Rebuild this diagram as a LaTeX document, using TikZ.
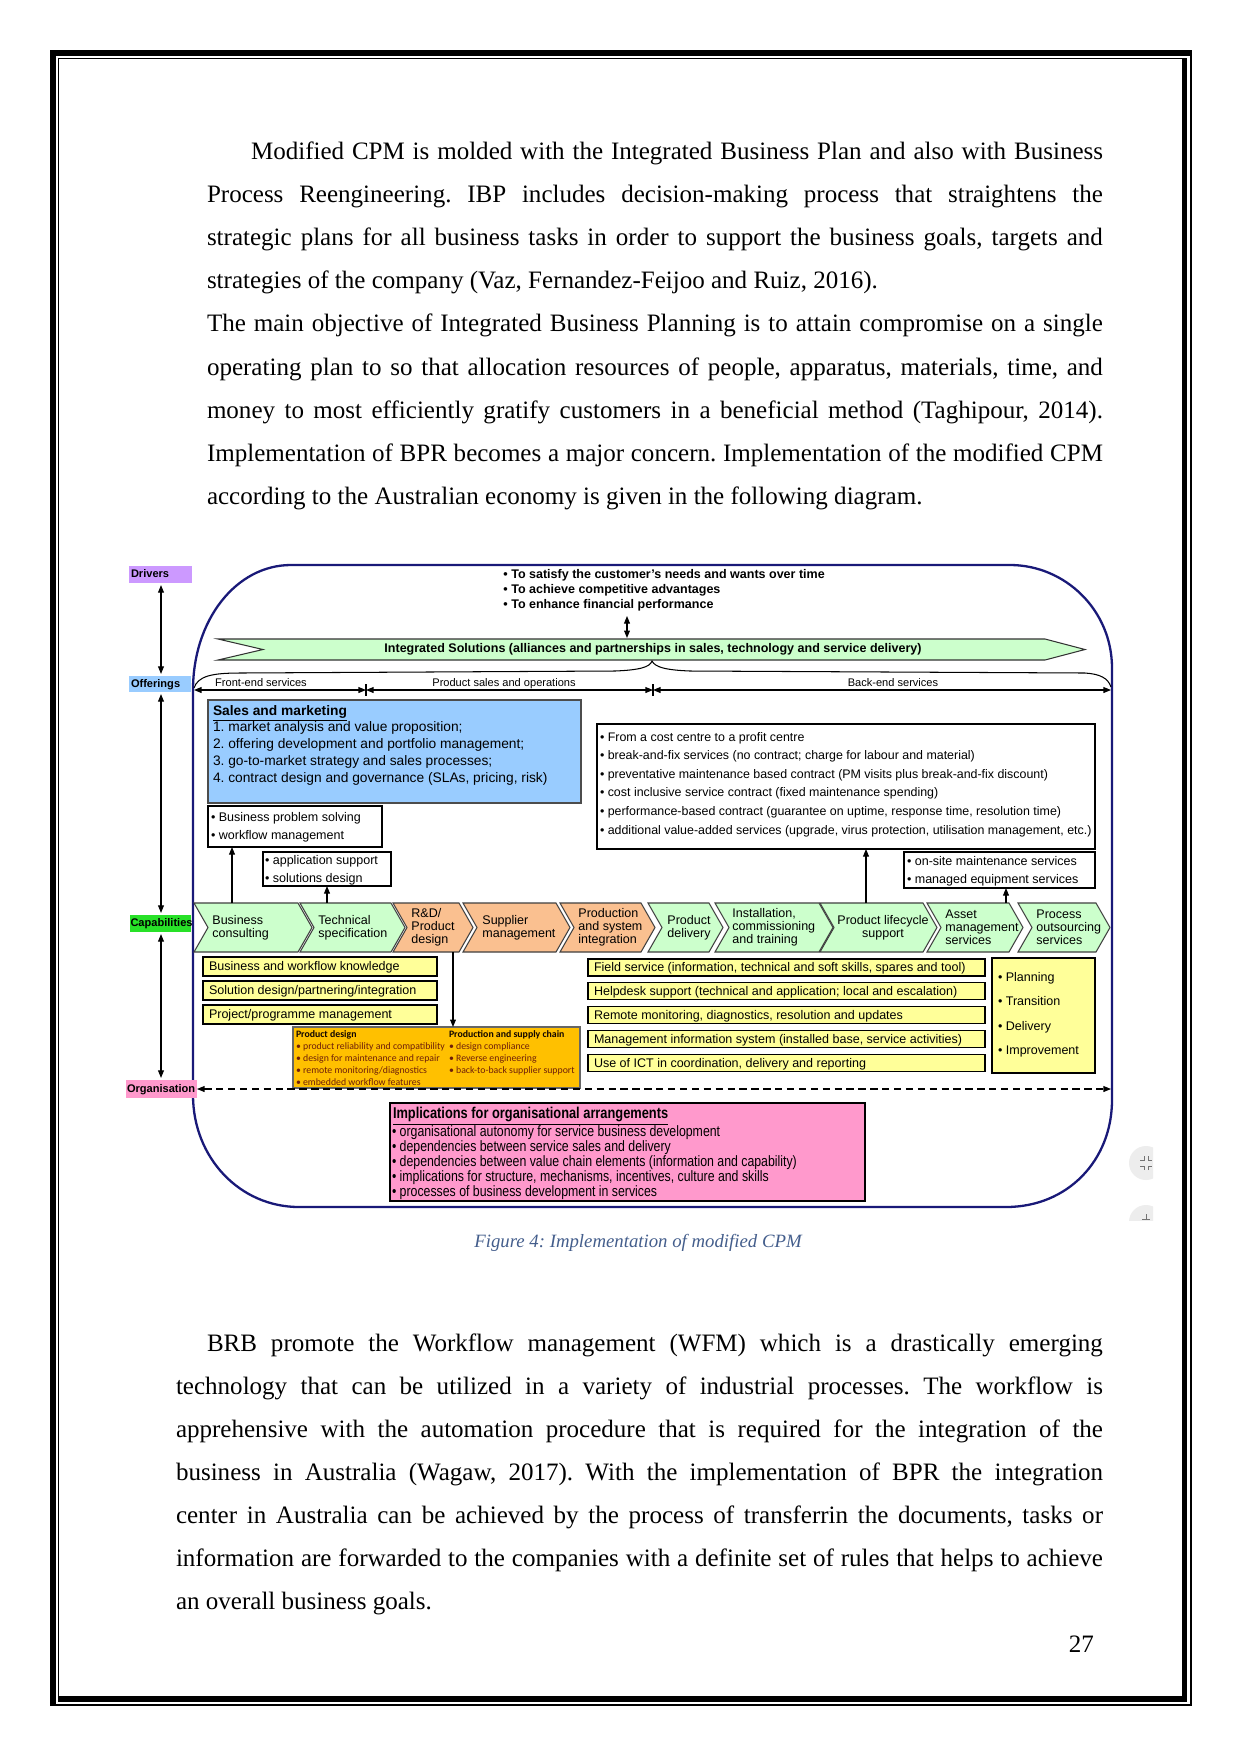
\documentclass[tikz,border=0pt]{standalone}
\usepackage{fontspec}
\setmainfont{Liberation Serif}
\newfontfamily\arial{Liberation Sans}
\newfontfamily\arialn[FakeStretch=0.82]{Liberation Sans}
\newfontfamily\calib{Carlito}
\usetikzlibrary{arrows.meta}
\frenchspacing
\definecolor{navy}{RGB}{25,25,120}
\definecolor{drv}{RGB}{204,153,255}
\definecolor{off}{RGB}{153,204,255}
\definecolor{capg}{RGB}{40,225,40}
\definecolor{org}{RGB}{255,153,204}
\definecolor{lgreen}{RGB}{204,255,204}
\definecolor{peach}{RGB}{250,192,144}
\definecolor{lyellow}{RGB}{255,255,153}
\definecolor{amber}{RGB}{255,192,0}
\definecolor{smblue}{RGB}{153,204,255}
\definecolor{pinkbox}{RGB}{255,153,204}
\definecolor{capcol}{RGB}{68,94,140}
\definecolor{obrown}{RGB}{110,30,10}
\newcommand\boxat[6]{\node[bx,#6,minimum width={(#4-#2)*0.4793pt},minimum height={(#5-#3)*0.4793pt}] (#1) at (#2,#3) {};}
\newcommand\tlines[6]{\foreach \mytext [count=\myi] in {#6}{\node[tl,#5] (#1\myi) at (#2,{#3+(\myi-1)*#4}) {\mytext};}}
\newcommand\chevr[6]{%
  \draw[chev, fill=#4] (#2,903) -- ({#3-14},903) -- (#3,927.5) -- ({#3-14},952) -- (#2,952) -- ({#2+14},927.5) -- cycle;
  \node[ctext, #5] (#1) {#6};}
\newcommand\jl[5]{\node[body] (#1) at (#2,#3) {\makebox[#4][s]{#5}};}
\begin{document}
\begin{tikzpicture}[x=0.4793pt,y=-0.4793pt,
  tl/.style={anchor=base west, inner sep=0pt, outer sep=0pt},
  body/.style={tl, font=\fontsize{12}{14}\selectfont},
  bx/.style={draw=black, line width=0.5pt, inner sep=0pt, outer sep=0pt, anchor=north west},
  arr/.style={-{Triangle[length=3.6pt,width=2.8pt]}, line width=0.5pt},
  darr/.style={{Triangle[length=3.6pt,width=2.8pt]}-{Triangle[length=3.6pt,width=2.8pt]}, line width=0.5pt},
  chev/.style={draw=black!75, line width=0.5pt},
  ctext/.style={inner sep=0pt, font=\arial\fontsize{6}{6.3}\selectfont},
  lab/.style={tl, font=\arial\bfseries\fontsize{5.3}{6}\selectfont},
  f6/.style={font=\arial\fontsize{6}{7}\selectfont}]
\useasboundingbox (0,0) rectangle (1242,1756);
\fill[white] (0,0) rectangle (1242,1756);
% page border
\fill[black] (50,50) rectangle (1192,56);
\fill[black] (50,50) rectangle (56,1705);
\fill[black] (58,1696) rectangle (1187,1702);
\fill[black] (1182,58) rectangle (1187,1702);
\draw[line width=0.6pt] (58,58.2) -- (1182,58.2);
\draw[line width=0.6pt] (58.2,58) -- (58.2,1696);
\draw[line width=0.6pt] (50,1705) -- (1192,1705);
\draw[line width=0.6pt] (1191,50) -- (1191,1705);
% paragraph 1
\jl{p1}{251}{159.5}{408.4pt}{Modified CPM is molded with the Integrated Business Plan and also with Business}
\jl{p2}{207}{202.6}{429.4pt}{Process Reengineering. IBP includes decision-making process that straightens the}
\jl{p3}{207}{245.7}{429.4pt}{strategic plans for all business tasks in order to support the business goals, targets and}
\node[body] (p4) at (207,288.8) {strategies of the company (Vaz, Fernandez-Feijoo and Ruiz, 2016).};
\jl{p5}{207}{331.9}{429.4pt}{The main objective of Integrated Business Planning is to attain compromise on a single}
\jl{p6}{207}{375}{429.4pt}{operating plan to so that allocation resources of people, apparatus, materials, time, and}
\jl{p7}{207}{418.1}{429.4pt}{money to most efficiently gratify customers in a beneficial method (Taghipour, 2014).}
\jl{p8}{207}{461.2}{429.4pt}{Implementation of BPR becomes a major concern. Implementation of the modified CPM}
\node[body] (p9) at (207,504.3) {according to the Australian economy is given in the following diagram.};
% paragraph 2
\jl{q1}{207}{1351}{429.4pt}{BRB promote the Workflow management (WFM) which is a drastically emerging}
\jl{q2}{176}{1394.1}{444.3pt}{technology that can be utilized in a variety of industrial processes. The workflow is}
\jl{q3}{176}{1437.2}{444.3pt}{apprehensive with the automation procedure that is required for the integration of the}
\jl{q4}{176}{1480.3}{444.3pt}{business in Australia (Wagaw, 2017). With the implementation of BPR the integration}
\jl{q5}{176}{1523.4}{444.3pt}{center in Australia can be achieved by the process of transferrin the documents, tasks or}
\jl{q6}{176}{1566.5}{444.3pt}{information are forwarded to the companies with a definite set of rules that helps to achieve}
\node[body] (q7) at (176,1609.6) {an overall business goals.};
\node[tl, anchor=base east, font=\fontsize{12}{14}\selectfont] (pg) at (1094,1652) {27};
\node[tl, anchor=base, font=\itshape\fontsize{9}{11}\selectfont, text=capcol] (cap) at (638,1247) {Figure 4: Implementation of modified CPM};
% ===== diagram =====
% frame
\draw[navy, line width=1.1pt] (193,690) .. controls (193,620) and (236,565) .. (291,565) -- (1010,565) .. controls (1065,565) and (1112,610) .. (1112,668) -- (1112,1100) .. controls (1112,1160) and (1068,1207) .. (1006,1207) -- (299,1207) .. controls (240,1207) and (193,1158) .. (193,1095) -- cycle;
% left labels
\boxat{drvbox}{129}{566}{192}{583}{fill=drv, draw=none}
\node[lab] (drvt) at (131,577.5) {Drivers};
\boxat{offbox}{129}{676}{191}{692}{fill=off, draw=none}
\node[lab] (offt) at (131,687) {Offerings};
\boxat{capbox}{130}{915}{191}{932}{fill=capg, draw=none}
\node[lab] (capt) at (130.5,926.5) {Capabilities};
\boxat{orgbox}{126}{1080}{197}{1098}{fill=org, draw=none}
\node[lab] (orgt) at (127,1092.5) {Organisation};
\coordinate (ax) at (161,0);
\draw[darr] ([yshift=-1pt]drvbox.south -| ax) -- ([yshift=1pt]offbox.north -| ax);
\draw[darr] ([yshift=-1pt]offbox.south -| ax) -- ([yshift=1pt]capbox.north -| ax);
\draw[darr] ([yshift=-1pt]capbox.south -| ax) -- ([yshift=1pt]orgbox.north -| ax);
% drivers text
\node[anchor=west, align=left, inner sep=0pt, font=\arial\bfseries\fontsize{6}{7.1}\selectfont] (drvtext) at (503,590.5) {• To satisfy the customer’s needs and wants over time\\• To achieve competitive advantages\\• To enhance financial performance};
\coordinate (dat) at (627,616); \coordinate (dab) at (627,638);
\draw[darr] (dat) -- (dab);
% banner
\draw[line width=0.5pt, draw=black!80, fill=lgreen] (218,639) -- (1045,639) -- (1085,649.5) -- (1045,660) -- (218,660) -- (263,649.5) -- cycle;
\node[inner sep=0pt, font=\arial\bfseries\fontsize{6}{6.5}\selectfont] (banner) at (653,649.5) {Integrated Solutions (alliances and partnerships in sales, technology and service delivery)};
% brace
\draw[line width=0.5pt] (194,688) .. controls (198,676) and (212,673) .. (240,673) -- (615,671) .. controls (640,670) and (650,667) .. (652,661) .. controls (655,667) and (665,670) .. (690,671) -- (1085,673) .. controls (1100,674) and (1108,678) .. (1111,687);
% offerings line
\coordinate (fl) at (194,690); \coordinate (t1) at (366,690); \coordinate (t2) at (653,690); \coordinate (fr) at (1111,690);
\draw[darr] (fl) -- (t1); \draw[darr] (t1) -- (t2); \draw[darr] (t2) -- (fr);
\draw[line width=0.5pt] (366,684) -- (366,696);
\draw[line width=0.5pt] (653,684) -- (653,696);
\node[tl, anchor=base, font=\arial\fontsize{5.3}{6}\selectfont] (fe) at (261,686) {Front-end services};
\node[tl, anchor=base, font=\arial\fontsize{5.3}{6}\selectfont] (ps) at (504,686) {Product sales and operations};
\node[tl, anchor=base, font=\arial\fontsize{5.3}{6}\selectfont] (be) at (893,686) {Back-end services};
% sales and marketing
\boxat{smbox}{208}{700}{581}{803}{fill=smblue, draw=black!70}
\tlines{sm}{213}{715}{16.8}{font=\arial\fontsize{6.6}{8}\selectfont}{{\underline{\textbf{Sales and marketing}}},{1. market analysis and value proposition;},{2. offering development and portfolio management;},{3. go-to-market strategy and sales processes;},{4. contract design and governance (SLAs, pricing, risk)}}
\boxat{bpbox}{208}{806}{382}{847}{fill=white}
\tlines{bp}{211}{821}{18.3}{f6}{{• Business problem solving},{• workflow management}}
\boxat{apbox}{263}{852}{391}{886}{fill=white}
\tlines{ap}{265}{864}{18}{f6}{{• application support},{• solutions design}}
\boxat{rbbox}{597}{724}{1095}{849}{fill=white}
\tlines{rb}{600}{741}{18.6}{font=\arial\fontsize{5.95}{7}\selectfont}{{• From a cost centre to a profit centre},{• break-and-fix services (no contract; charge for labour and material)},{• preventative maintenance based contract (PM visits plus break-and-fix discount)},{• cost inclusive service contract (fixed maintenance spending)},{• performance-based contract (guarantee on uptime, response time, resolution time)},{• additional value-added services (upgrade, virus protection, utilisation management, etc.)}}
\boxat{osbox}{904}{852}{1095}{888}{fill=white}
\tlines{os}{907}{865}{18}{f6}{{• on-site maintenance services},{• managed equipment services}}
% chevrons
\chevr{c1}{194}{312}{lgreen}{anchor=west, align=left, at={(212,927.5)}}{Business\\consulting}
\chevr{c2}{300}{405}{lgreen}{anchor=west, align=left, at={(318,927.5)}}{Technical\\specification}
\chevr{c3}{393}{473}{peach}{anchor=west, align=left, at={(411,927.5)}}{R\&D/\\Product\\design}
\chevr{c4}{463}{570}{peach}{anchor=west, align=left, at={(482,927.5)}}{Supplier\\management}
\chevr{c5}{560}{655}{peach}{anchor=west, align=left, at={(578,927.5)}}{Production\\and system\\integration}
\chevr{c6}{648}{723}{lgreen}{align=center, at={(689,927.5)}}{Product\\delivery}
\chevr{c7}{715}{833}{lgreen}{anchor=west, align=left, at={(732,927.5)}}{Installation,\\commissioning\\and training}
\chevr{c8}{820}{937}{lgreen}{align=center, at={(883,927.5)}}{Product lifecycle\\support}
\chevr{c9}{927}{1023}{lgreen}{anchor=west, align=left, at={(945,927.5)}}{Asset\\management\\services}
\chevr{c10}{1018}{1110}{lgreen}{anchor=west, align=left, at={(1036,927.5)}}{Process\\outsourcing\\services}
% chevron arrows
\coordinate (a1) at (232,903); \draw[arr] (a1) -- (a1 |- bpbox.south);
\coordinate (a2) at (327,903); \draw[arr] (a2) -- (a2 |- apbox.south);
\coordinate (a8) at (866,903); \draw[arr] (a8) -- (a8 |- rbbox.south);
\coordinate (a9) at (1006,903); \draw[arr] (a9) -- (a9 |- osbox.south);
% left yellow boxes
\boxat{yl1}{203}{957}{437}{976}{fill=lyellow}
\boxat{yl2}{203}{981}{437}{1000}{fill=lyellow}
\boxat{yl3}{203}{1005}{437}{1024}{fill=lyellow}
\node[tl,f6] (yl1t) at (209,970.5) {Business and workflow knowledge};
\node[tl,f6] (yl2t) at (209,994.5) {Solution design/partnering/integration};
\node[tl,f6] (yl3t) at (209,1018.5) {Project/programme management};
% orange box
\boxat{obox}{293}{1027}{580}{1088}{fill=amber, draw=black!60}
\coordinate (a3) at (453,952); \draw[arr] (a3) -- (a3 |- obox.north);
\tlines{ol}{296}{1037}{12}{font=\calib\fontsize{4.7}{5}\selectfont, text=obrown}{{\textcolor{black!85!obrown}{\textbf{Product design}}},{• product reliability and compatibility},{• design for maintenance and repair},{• remote monitoring/diagnostics},{• embedded workflow features}}
\tlines{or}{449}{1037}{12}{font=\calib\fontsize{4.7}{5}\selectfont, text=obrown}{{\textcolor{black!85!obrown}{\textbf{Production and supply chain}}},{• design compliance},{• Reverse engineering},{• back-to-back supplier support}}
% right yellow boxes
\foreach \yy/\tx [count=\k] in {959/{Field service (information, technical and soft skills, spares and tool)},982.8/{Helpdesk support (technical and application; local and escalation)},1006.6/{Remote monitoring, diagnostics, resolution and updates},1030.4/{Management information system (installed base, service activities)},1054.2/{Use of ICT in coordination, delivery and reporting}}{
  \boxat{yr\k}{588}{\yy}{985}{\yy+17}{fill=lyellow}
  \node[tl,f6] (yr\k t) at (594,\yy+12.8) {\tx};
}
\boxat{plbox}{992}{958}{1095}{1073}{fill=lyellow}
\tlines{pl}{998}{981}{24.5}{f6}{{• Planning},{• Transition},{• Delivery},{• Improvement}}
% dashed line
\coordinate (dr) at (1111,1089);
\draw[darr, dash pattern=on 3.5pt off 2.2pt] (orgbox.east) -- (dr);
% pink box
\boxat{pkbox}{390}{1103}{865}{1201}{fill=pinkbox, line width=0.7pt}
\node[tl, font=\arialn\bfseries\fontsize{7.5}{8}\selectfont] (pk0) at (393,1118.5) {\underline{Implications for organisational arrangements}};
\tlines{pk}{392}{1136}{15}{font=\arialn\fontsize{7.2}{8}\selectfont}{{• organisational autonomy for service business development},{• dependencies between service sales and delivery},{• dependencies between value chain elements (information and capability)},{• implications for structure, mechanisms, incentives, culture and skills},{• processes of business development in services}}
% screen widget remnants
\begin{scope}
\clip (1100,1130) rectangle (1153,1220);
\fill[black!7] (1146,1163) circle (17);
\fill[black!7] (1146,1222) circle (17);
\draw[black!55, line width=0.45pt] (1140,1160) -- (1144,1160) -- (1144,1156) (1148,1156) -- (1148,1160) -- (1152,1160) (1140,1166) -- (1144,1166) -- (1144,1170) (1148,1170) -- (1148,1166) -- (1152,1166);
\draw[black!55, line width=0.45pt] (1146,1214) -- (1146,1219) (1142,1219) -- (1150,1219);
\end{scope}
\end{tikzpicture}
\end{document}
